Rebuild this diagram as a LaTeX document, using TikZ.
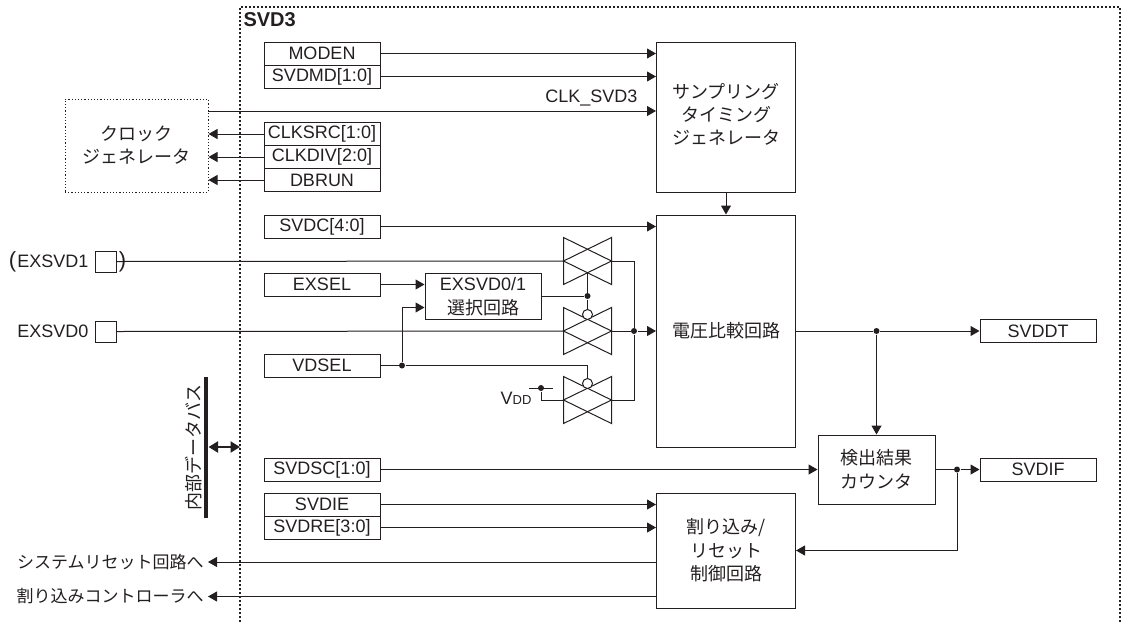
\documentclass[tikz,border=0pt]{standalone}
\usepackage{fontspec}
\setmainfont{Liberation Sans}
\newfontfamily\jp{Noto Sans CJK JP}
\usetikzlibrary{arrows.meta}

\definecolor{inkdark}{HTML}{231F20}

\begin{document}
\begin{tikzpicture}[
      x=1pt, y=-1pt, color=inkdark, line width=1pt,
      every node/.style={font=\fontsize{18}{23}\selectfont, inner sep=0pt},
      regbox/.style={rectangle, draw, minimum width=116pt, minimum height=23pt},
      blockbox/.style={rectangle, draw, minimum width=139pt, align=center,
        font=\fontsize{18}{23.5}\jp},
      jplabel/.style={align=center, font=\fontsize{18}{23}\jp},
      exitlabel/.style={anchor=east, font=\fontsize{17}{20}\jp},
      padbox/.style={rectangle, draw, minimum size=21pt},
      tgate/.style={rectangle, minimum width=47pt, minimum height=46pt},
      bubble/.style={circle, draw, fill=white, minimum size=10pt},
      junction/.style={circle, fill, minimum size=6pt},
      sig/.style={-{Triangle[length=9pt,width=10pt]}}]

    \useasboundingbox (0,0) rectangle (1124,622);

    % frame, open at the bottom
    \draw[line width=2.2pt, dash pattern=on 2pt off 2pt] (240,622) -- (240,7) -- (1120,7) -- (1120,622);
    \node[anchor=west, font=\fontsize{20}{24}\bfseries] (title) at (243,20) {SVD3};

    \node[jplabel, rectangle, draw, line width=1pt, dash pattern=on 1.2pt off 2pt,
      minimum width=143pt, minimum height=93pt] (clk) at (136.5,145.5) {クロック\\ジェネレータ};

    \node[regbox] (moden)  at (322,53.5) {MODEN};
    \node[regbox] (svdmd)  at (322,76.5) {SVDMD[1:0]};
    \node[regbox] (clksrc) at (322,134) {CLKSRC[1:0]};
    \node[regbox] (clkdiv) at (322,157) {CLKDIV[2:0]};
    \node[regbox] (dbrun)  at (322,180) {DBRUN};
    \node[regbox] (svdc)   at (322,226.5) {SVDC[4:0]};
    \node[regbox] (exsel)  at (322,284.5) {EXSEL};
    \node[regbox] (vdsel)  at (322,365.5) {VDSEL};
    \node[regbox] (svdsc)  at (322,469.5) {SVDSC[1:0]};
    \node[regbox] (svdie)  at (322,504.5) {SVDIE};
    \node[regbox] (svdre)  at (322,527.5) {SVDRE[3:0]};
    \node[regbox] (svddt)  at (1038,331) {SVDDT};
    \node[regbox] (svdif)  at (1038,469.5) {SVDIF};

    \node[blockbox, minimum height=150pt] (sampler) at (726,117) {};
    \node[jplabel] (samplertext) at (726,114.5) {サンプリング\\タイミング\\ジェネレータ};
    \node[blockbox, minimum height=232pt] (compare) at (726,331) {電圧比較回路};
    \node[blockbox, minimum height=115pt] (intctl)  at (726,550.5) {割り込み/\\リセット\\制御回路};
    \node[blockbox, minimum width=117pt, minimum height=69pt] (counter) at (876.5,469.5) {検出結果\\カウンタ};
    \node[regbox, align=center, minimum height=46pt, font=\fontsize{18}{23.5}\jp] (select) at (483,296.5)
      {{\fontsize{18}{23}\rmfamily EXSVD0/1}\\選択回路};

    \node[padbox] (pad1) at (105.5,261.5) {};
    \node[padbox] (pad0) at (105.5,331.5) {};
    \node[anchor=east] (ex1) at (89,261.5) {EXSVD1};
    \node[anchor=east] (ex0) at (89,331.5) {EXSVD0};
    \node[font=\fontsize{22}{24}\selectfont] (lparen) at (12.5,261.5) {(};
    \node[font=\fontsize{22}{24}\selectfont] (rparen) at (122.5,261.5) {)};

    \node[tgate] (tg1) at (587.5,261) {};
    \node[tgate] (tg2) at (587.5,331) {};
    \node[tgate] (tg3) at (587.5,400) {};
    \foreach \g in {tg1,tg2,tg3} {
      \draw (\g.north west) -- (\g.east) -- (\g.south west) -- cycle;
      \draw (\g.north east) -- (\g.west) -- (\g.south east) -- cycle;
    }

    % gate controls
    \node[bubble] (bub2) at (587.5,314.5) {};
    \node[bubble] (bub3) at (587.5,383.5) {};
    \node[junction] (selout) at (587.5,296) {};
    \node[junction] (vdjoin) at (402,365.5) {};
    \node[junction] (tgjoin) at (634,331) {};
    \coordinate (tg1low) at (587.5,272.5);
    \draw (tg1low) -- (selout);
    \draw (selout) -- (bub2);
    \draw (select.east |- selout) -- (selout);
    \draw (vdsel) -- (vdjoin);
    \draw (vdjoin) -- (vdjoin -| bub3) -- (bub3);
    \draw[sig] (vdjoin) |- (select.west |- 0,307.5);
    \draw[sig] (exsel) -- (select.west |- exsel);

    % analog inputs
    \draw (pad1) ++(10.5,0) -- (tg1.west);
    \draw (pad0) ++(10.5,0) -- (tg2.west);
    \draw (tg1.east) -- (tg1.east -| tgjoin) -- (tgjoin);
    \draw (tg2.east) -- (tgjoin);
    \draw (tg3.east) -- (tg3.east -| tgjoin) -- (tgjoin);
    \draw[sig] (tgjoin) -- (compare.west |- tgjoin);

    % VDD
    \node (vdd) at (516,398) {V{\fontsize{13}{14}\selectfont DD}};
    \node[junction] (vddot) at (541,388) {};
    \coordinate (vdda) at (529,388);
    \coordinate (vddb) at (553,388);
    \draw (vdda) -- (vddb);
    \draw (vddot) |- (tg3.west);

    % register inputs
    \draw[sig] (moden) -- (sampler.west |- moden);
    \draw[sig] (svdmd) -- (sampler.west |- svdmd);
    \coordinate (clkout) at (208,111);
    \draw[sig] (clkout) -- (sampler.west |- clkout);
    \node[anchor=east] (clkname) at (638,98) {CLK\_SVD3};
    \draw[sig] (clksrc) -- (clk.east |- clksrc);
    \draw[sig] (clkdiv) -- (clk.east |- clkdiv);
    \draw[sig] (dbrun)  -- (clk.east |- dbrun);
    \draw[sig] (sampler) -- (compare);
    \draw[sig] (svdc) -- (compare.west |- svdc);

    % outputs
    \node[junction] (dtjoin) at (876.5,331) {};
    \node[junction] (ifjoin) at (957,469.5) {};
    \draw (compare.east |- dtjoin) -- (dtjoin);
    \draw[sig] (dtjoin) -- (svddt);
    \draw[sig] (dtjoin) -- (counter);
    \draw[sig] (svdsc) -- (counter);
    \draw (counter) -- (ifjoin);
    \draw[sig] (ifjoin) -- (svdif);
    \draw[sig] (ifjoin) |- (intctl.east);
    \draw[sig] (svdie) -- (intctl.west |- svdie);
    \draw[sig] (svdre) -- (intctl.west |- svdre);

    \node[exitlabel] (sysrst) at (204,562) {システムリセット回路へ};
    \node[exitlabel] (intreq) at (204,596.5) {割り込みコントローラへ};
    \coordinate (sysend) at (208,562);
    \coordinate (intend) at (208,596.5);
    \draw[sig] (intctl.west |- sysend) -- (sysend);
    \draw[sig] (intctl.west |- intend) -- (intend);

    % internal bus
    \node[rectangle, fill, minimum width=4.5pt, minimum height=141pt] (bus) at (205.8,447.5) {};
    \node[jplabel, rotate=90] (busname) at (194,447.5) {内部データバス};
    \coordinate (busport) at (240,447);
    \draw[line width=2.2pt, {Triangle[length=9.5pt,width=11pt]}-{Triangle[length=9.5pt,width=11pt]}] (bus.east |- busport) -- (busport);

  \end{tikzpicture}
\end{document}
